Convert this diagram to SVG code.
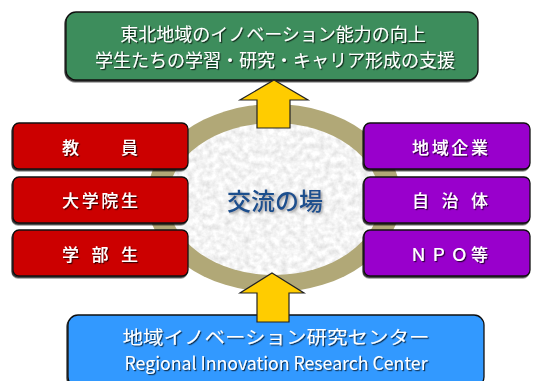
<svg xmlns="http://www.w3.org/2000/svg" width="535" height="381" viewBox="0 0 535 381">
<defs>
<filter id="tex" x="0" y="0" width="100%" height="100%">
<feTurbulence type="fractalNoise" baseFrequency="0.16" numOctaves="3" seed="5" result="n"/>
<feColorMatrix in="n" type="matrix" values="0.45 0 0 0 0.68  0.45 0 0 0 0.68  0.45 0 0 0 0.68  0 0 0 0 1" result="g"/>
<feComposite in="g" in2="SourceGraphic" operator="in"/>
</filter>
<filter id="bsh" x="-10%" y="-10%" width="120%" height="130%">
<feDropShadow dx="-1" dy="1.5" stdDeviation="0.6" flood-color="#000" flood-opacity="0.8"/>
</filter>
<filter id="tsh" x="-10%" y="-20%" width="120%" height="150%">
<feDropShadow dx="1.2" dy="1.2" stdDeviation="0.6" flood-color="#000" flood-opacity="0.7"/>
</filter>
<filter id="csh" x="-10%" y="-20%" width="120%" height="150%">
<feDropShadow dx="1.5" dy="1.5" stdDeviation="1" flood-color="#555" flood-opacity="0.6"/>
</filter>
</defs>
<style>
.box{stroke:#111;stroke-width:1.3;filter:url(#bsh)}
.red{fill:#cc0000}
.pur{fill:#9900cc}
.lbl{font-family:"Noto Sans CJK JP","Noto Sans",sans-serif;font-size:17px;font-weight:500;fill:#fff;text-anchor:middle;filter:url(#tsh)}
.big{font-family:"Noto Sans CJK JP","Noto Sans",sans-serif;font-size:18px;fill:#fff;text-anchor:middle;filter:url(#tsh)}
.arrow{fill:#ffcc00;stroke:#222;stroke-width:1.2;stroke-linejoin:miter}
</style>
<rect width="535" height="381" fill="#fff"/>

<g id="hub">
<ellipse cx="274" cy="198" rx="127" ry="94" fill="#b1a877"/>
<ellipse cx="274" cy="199" rx="106" ry="76" fill="#eee" filter="url(#tex)"/>
<text x="275" y="210" font-family="'Noto Sans CJK JP','Noto Sans',sans-serif" font-size="24" font-weight="500" fill="#1f4f8d" text-anchor="middle" filter="url(#csh)">交流の場</text>
</g>

<g id="goal">
<rect class="box" x="66" y="12" width="412" height="68" rx="10" fill="#3e8d5b"/>
<text class="big" x="273" y="41">東北地域のイノベーション能力の向上</text>
<text class="big" x="275" y="67" textLength="360" lengthAdjust="spacingAndGlyphs">学生たちの学習・研究・キャリア形成の支援</text>
</g>

<g id="faculty">
<rect class="box red" x="13" y="123" width="175" height="46" rx="6"/>
<text class="lbl" x="100" y="154" textLength="76" lengthAdjust="spacing">教　　員</text>
</g>
<g id="grad">
<rect class="box red" x="13" y="177" width="175" height="46" rx="6"/>
<text class="lbl" x="100" y="207" textLength="76" lengthAdjust="spacing">大学院生</text>
</g>
<g id="undergrad">
<rect class="box red" x="13" y="230" width="175" height="46" rx="6"/>
<text class="lbl" x="100" y="261" textLength="76" lengthAdjust="spacing">学 部 生</text>
</g>

<g id="companies">
<rect class="box pur" x="364" y="123" width="166" height="46" rx="6"/>
<text class="lbl" x="450" y="154" textLength="76" lengthAdjust="spacing">地域企業</text>
</g>
<g id="municipalities">
<rect class="box pur" x="364" y="177" width="166" height="46" rx="6"/>
<text class="lbl" x="450" y="207" textLength="76" lengthAdjust="spacing">自 治 体</text>
</g>
<g id="npo">
<rect class="box pur" x="364" y="230" width="166" height="46" rx="6"/>
<text class="lbl" x="449" y="261" textLength="78" lengthAdjust="spacing">ＮＰＯ等</text>
</g>

<g id="center">
<rect class="box" x="68" y="315" width="416" height="72" rx="10" fill="#3399ff"/>
<text class="big" x="276" y="344" font-size="20" textLength="307" lengthAdjust="spacingAndGlyphs">地域イノベーション研究センター</text>
<text class="big" x="276" y="370" font-family="'Liberation Sans',Arial,sans-serif" font-size="16" textLength="303" lengthAdjust="spacingAndGlyphs">Regional Innovation Research Center</text>
</g>

<g id="connectors">
<polygon class="arrow" points="274,80 308,100 290,100 290,128 257,128 257,100 240,100"/>
<polygon class="arrow" points="272,273 304,293 289,293 289,322 257,322 257,293 240,293"/>
</g>
</svg>
